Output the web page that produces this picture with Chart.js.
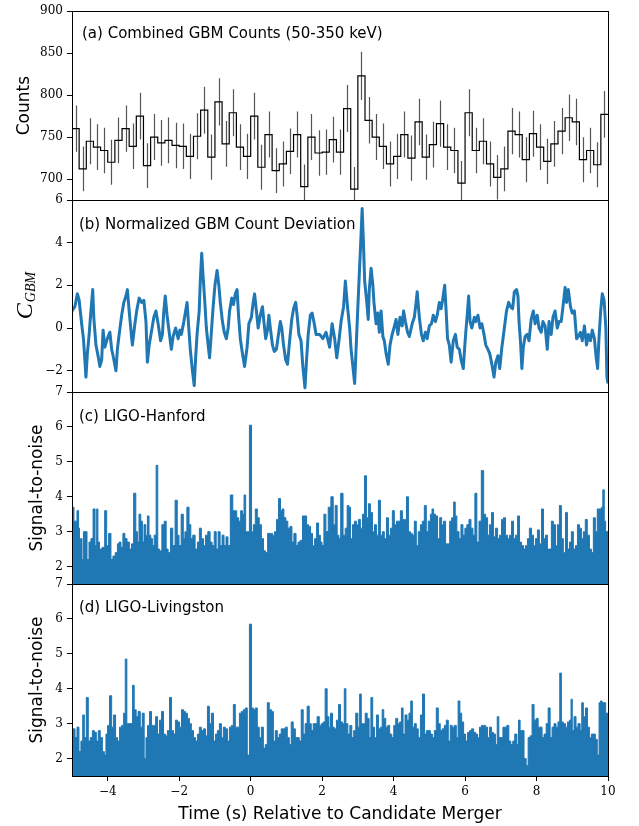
<!DOCTYPE html>
<html><head><meta charset="utf-8">
<script src="https://cdn.jsdelivr.net/npm/chart.js@4.4.0/dist/chart.umd.min.js"></script>
<style>
html,body{margin:0;padding:0;background:#fff;}
#wrap{position:relative;width:639px;height:826px;overflow:hidden;background:#fff;}
canvas{position:absolute;left:0;top:0;}
</style></head><body>
<div id="wrap">
<canvas id="pa" width="639" height="826"></canvas>
<canvas id="pb" width="639" height="826"></canvas>
<canvas id="pc" width="639" height="826"></canvas>
<canvas id="pd" width="639" height="826"></canvas>
</div>
<script>
// ---------------- DATA ----------------
const timeMin = -5, timeMax = 10;
const xTickValues = [-4, -2, 0, 2, 4, 6, 8, 10];

// (a) Combined GBM counts, 0.2 s bins starting at -5 s
const gbmBinStart = -5;
const gbmBinWidth = 0.2;
const gbmCounts = [
  760,712,745,738,734,720,746,760,739,775,
  716,750,743,746,740,739,727,751,782,726,
  792,742,779,738,727,775,714,753,710,718,
  733,753,691,750,731,732,747,732,784,688,
  823,770,750,739,718,727,753,725,768,726,
  741,766,738,734,695,779,734,745,718,702,
  712,757,753,723,754,738,721,742,757,773,
  768,723,734,717,777
];
const gbmTickValues = [700, 750, 800, 850, 900];

// (b) Normalized GBM count deviation
const cgbmTime = [
  -5.00,-4.92,-4.85,-4.80,-4.73,-4.68,-4.64,-4.61,-4.57,-4.52,
  -4.48,-4.42,-4.39,-4.33,-4.26,-4.22,-4.17,-4.13,-4.08,-4.01,
  -3.94,-3.89,-3.85,-3.77,-3.73,-3.68,-3.61,-3.55,-3.49,-3.45,
  -3.40,-3.34,-3.31,-3.24,-3.18,-3.12,-3.05,-2.99,-2.93,-2.89,
  -2.84,-2.78,-2.71,-2.65,-2.59,-2.52,-2.47,-2.43,-2.39,-2.34,
  -2.28,-2.22,-2.17,-2.10,-2.03,-1.98,-1.94,-1.87,-1.82,-1.78,
  -1.74,-1.69,-1.63,-1.58,-1.54,-1.50,-1.44,-1.41,-1.37,-1.33,
  -1.29,-1.24,-1.19,-1.15,-1.10,-1.05,-1.00,-0.94,-0.89,-0.85,
  -0.79,-0.74,-0.68,-0.63,-0.59,-0.53,-0.48,-0.43,-0.38,-0.34,
  -0.29,-0.23,-0.17,-0.10,-0.05,0.02,0.07,0.11,0.16,0.21,
  0.27,0.33,0.37,0.42,0.47,0.51,0.55,0.61,0.66,0.72,
  0.77,0.83,0.87,0.92,0.98,1.03,1.09,1.15,1.20,1.26,
  1.30,1.35,1.41,1.46,1.52,1.56,1.61,1.67,1.72,1.78,
  1.83,1.93,2.02,2.11,2.21,2.28,2.35,2.41,2.47,2.53,
  2.60,2.65,2.71,2.77,2.81,2.86,2.91,2.95,3.00,3.04,
  3.08,3.12,3.16,3.19,3.25,3.29,3.32,3.37,3.42,3.45,
  3.51,3.56,3.60,3.65,3.70,3.74,3.79,3.85,3.90,3.96,
  4.01,4.07,4.12,4.18,4.24,4.28,4.33,4.39,4.44,4.52,
  4.58,4.63,4.66,4.72,4.78,4.83,4.89,4.94,5.00,5.06,
  5.11,5.17,5.22,5.28,5.33,5.37,5.43,5.47,5.51,5.56,
  5.61,5.67,5.73,5.78,5.84,5.89,5.95,5.99,6.02,6.07,
  6.10,6.14,6.19,6.26,6.30,6.36,6.42,6.47,6.53,6.58,
  6.64,6.69,6.75,6.81,6.86,6.92,6.97,7.03,7.10,7.16,
  7.22,7.27,7.33,7.38,7.44,7.48,7.51,7.55,7.59,7.63,
  7.68,7.74,7.79,7.85,7.91,7.96,8.02,8.07,8.13,8.18,
  8.24,8.30,8.35,8.41,8.46,8.52,8.58,8.63,8.69,8.74,
  8.80,8.84,8.89,8.95,9.00,9.06,9.12,9.17,9.23,9.28,
  9.34,9.40,9.45,9.51,9.56,9.62,9.67,9.71,9.75,9.80,
  9.84,9.89,9.94,9.97,10.00
];
const cgbmValue = [
  0.8,1.0,1.6,1.3,0.2,-0.5,-1.5,-2.3,-1.2,-0.3,
  0.6,1.8,0.5,-0.8,-1.4,-1.8,-1.5,-0.1,-0.9,-0.5,
  -0.2,-1.0,-1.3,-2.0,-1.0,-0.3,0.6,1.2,1.5,1.8,
  0.8,-0.3,-0.8,0.2,0.9,1.4,1.2,1.3,0.3,-1.6,
  -0.8,-0.2,0.5,0.8,0.2,-0.6,-0.3,0.8,1.5,0.6,
  -0.2,-1.0,-0.4,0.0,-0.5,-0.1,-0.3,0.3,0.8,1.2,
  0.2,-1.0,-2.0,-2.7,-1.4,-0.3,0.8,2.2,3.5,2.4,
  1.4,0.0,-0.8,-1.4,-0.2,1.0,2.0,2.7,2.0,1.2,
  0.3,-0.2,-0.5,0.0,0.8,1.4,1.1,1.6,1.8,0.6,
  -0.5,-1.2,-1.8,-0.9,0.2,0.5,1.2,1.6,0.8,0.0,
  0.6,1.0,0.3,-0.5,-0.1,0.6,0.0,-0.8,-1.1,-1.0,
  -0.4,0.3,0.0,-0.8,-1.5,-1.7,-0.6,0.4,0.9,1.2,
  0.6,-0.3,-0.6,-1.8,-2.8,-1.6,-0.3,0.6,0.7,0.2,
  -0.3,-0.3,-0.5,-0.2,-0.9,0.2,-0.5,-1.4,-0.6,0.3,
  1.0,2.2,1.0,0.0,-1.0,-1.8,-2.6,-1.0,1.0,2.5,
  4.0,5.6,3.8,2.2,1.2,0.4,1.8,2.8,2.0,1.2,
  0.2,0.7,-0.2,0.8,-0.4,-0.6,-1.2,-1.7,-0.8,-0.3,
  0.0,0.4,-0.3,0.5,0.1,0.8,0.3,-0.2,-0.4,0.2,
  0.5,1.2,1.7,0.5,-0.3,-0.6,-0.2,-0.5,0.1,0.2,
  0.6,0.3,0.6,1.2,0.9,1.3,2.0,0.8,-0.5,-0.8,
  -1.6,-0.6,-0.3,-0.9,-1.0,-1.5,-1.9,-0.9,-0.2,0.8,
  1.5,0.3,0.0,0.5,0.3,0.6,0.0,0.2,-0.3,-0.8,
  -1.0,-1.2,-1.7,-2.3,-1.6,-1.3,-1.9,-0.9,0.0,0.8,
  1.2,1.0,0.9,1.7,1.8,1.5,0.3,-0.6,-1.9,-0.9,
  -0.4,-0.3,-0.6,0.4,0.8,0.2,0.6,0.0,-0.2,0.3,
  0.1,-1.0,0.3,-0.3,0.5,0.8,0.0,0.3,0.3,1.0,
  1.9,1.2,1.8,1.0,0.7,0.8,-0.5,-0.4,-0.2,-0.6,
  0.1,-0.8,-0.3,-0.6,-0.1,-0.5,-1.4,-1.9,-0.4,0.9,
  1.6,1.3,0.0,-2.3,-2.6
];
const cgbmTickValues = [-2, 0, 2, 4, 6];

// (c) LIGO-Hanford signal-to-noise
const hanfordTime = [
  -5.00,-4.89,-4.83,-4.80,-4.78,-4.74,-4.70,-4.66,-4.61,-4.55,
  -4.50,-4.44,-4.38,-4.33,-4.29,-4.26,-4.20,-4.12,-4.05,-4.01,
  -3.94,-3.88,-3.83,-3.75,-3.71,-3.66,-3.60,-3.55,-3.49,-3.43,
  -3.36,-3.31,-3.24,-3.19,-3.15,-3.10,-3.05,-3.01,-2.96,-2.91,
  -2.87,-2.82,-2.77,-2.73,-2.67,-2.62,-2.58,-2.52,-2.45,-2.39,
  -2.34,-2.28,-2.21,-2.15,-2.08,-2.03,-1.98,-1.91,-1.86,-1.82,
  -1.75,-1.70,-1.65,-1.59,-1.52,-1.46,-1.41,-1.35,-1.29,-1.24,
  -1.16,-1.11,-1.05,-0.99,-0.94,-0.88,-0.83,-0.77,-0.72,-0.66,
  -0.61,-0.53,-0.47,-0.42,-0.36,-0.31,-0.25,-0.21,-0.16,-0.12,
  -0.07,0.00,0.05,0.10,0.16,0.21,0.27,0.33,0.39,0.44,
  0.51,0.58,0.64,0.70,0.75,0.81,0.86,0.90,0.96,1.01,
  1.07,1.13,1.18,1.24,1.30,1.35,1.42,1.48,1.54,1.59,
  1.65,1.70,1.76,1.82,1.87,1.93,1.97,2.02,2.08,2.13,
  2.21,2.28,2.34,2.39,2.45,2.49,2.55,2.62,2.67,2.73,
  2.77,2.82,2.88,2.93,2.99,3.04,3.10,3.16,3.21,3.27,
  3.32,3.38,3.44,3.49,3.55,3.60,3.66,3.71,3.77,3.83,
  3.88,3.94,3.99,4.05,4.11,4.16,4.22,4.27,4.33,4.39,
  4.44,4.50,4.55,4.61,4.66,4.72,4.78,4.83,4.89,4.94,
  5.00,5.06,5.09,5.15,5.20,5.26,5.32,5.37,5.43,5.48,
  5.54,5.60,5.65,5.71,5.74,5.80,5.86,5.91,5.97,6.02,
  6.08,6.14,6.19,6.25,6.30,6.36,6.42,6.49,6.55,6.60,
  6.66,6.71,6.77,6.82,6.88,6.94,6.99,7.05,7.10,7.16,
  7.22,7.27,7.33,7.38,7.44,7.50,7.55,7.61,7.66,7.72,
  7.77,7.83,7.89,7.94,8.00,8.05,8.11,8.17,8.22,8.28,
  8.33,8.39,8.44,8.50,8.56,8.61,8.67,8.72,8.78,8.84,
  8.89,8.95,9.00,9.06,9.12,9.17,9.23,9.28,9.34,9.39,
  9.45,9.51,9.56,9.62,9.67,9.73,9.79,9.84,9.87,9.92,
  9.95,10.00
];
const hanfordSNR = [
  3.7,3.3,3.6,3.1,2.5,2.8,2.2,3.0,3.0,2.2,
  2.7,2.8,3.65,2.6,3.65,2.7,2.5,2.55,3.6,2.6,
  2.95,2.2,2.3,2.4,2.65,2.7,2.55,2.95,2.8,2.7,
  2.5,2.65,4.1,3.0,2.7,3.5,3.3,2.7,3.2,2.9,
  3.45,2.9,2.8,2.6,2.9,4.9,2.5,2.45,3.2,3.3,
  2.5,2.4,3.1,2.6,3.9,2.9,2.6,3.5,2.8,3.0,
  3.7,3.2,2.8,2.9,2.5,2.7,3.1,2.8,2.6,2.9,
  3.0,2.7,2.6,3.0,2.5,3.0,2.6,2.9,2.6,2.85,
  2.6,4.05,3.6,3.6,3.4,3.3,3.6,3.5,4.05,3.0,
  3.0,6.05,3.0,3.2,3.65,3.4,3.2,2.8,2.45,2.4,
  2.95,2.95,2.9,3.0,3.35,3.95,3.6,3.65,3.4,3.3,
  3.1,3.15,2.7,2.95,2.6,2.7,2.75,3.45,3.45,3.2,
  3.15,2.95,2.6,2.8,3.25,2.9,2.7,2.6,3.5,3.0,
  3.7,4.0,3.2,3.75,2.9,2.8,4.1,2.9,3.1,3.75,
  3.7,2.8,3.2,3.3,3.2,3.35,3.1,3.5,4.6,3.4,
  3.8,3.55,3.0,3.2,2.9,3.9,2.9,3.0,2.8,3.4,
  2.9,3.1,3.6,3.2,3.3,3.3,3.6,3.35,3.35,4.0,
  3.0,2.95,2.9,3.3,2.6,3.0,3.2,3.3,3.75,3.0,
  3.3,3.5,3.65,3.5,3.45,2.8,3.4,3.2,3.3,2.65,
  2.65,3.3,3.4,3.85,3.45,3.0,2.8,3.2,2.9,3.1,
  3.2,3.35,3.1,2.9,4.1,2.7,3.3,4.75,3.5,3.4,
  2.9,3.2,3.55,2.85,3.1,2.8,2.9,3.35,3.4,2.9,
  2.8,2.9,3.3,2.8,2.9,3.45,2.7,2.6,2.5,2.6,
  2.8,3.1,2.9,2.6,2.8,3.05,2.65,3.65,2.8,2.9,
  2.5,2.5,3.3,3.2,2.6,3.2,3.75,2.8,2.4,3.55,
  2.5,2.7,3.0,2.5,2.6,3.2,3.1,2.8,3.0,3.35,
  2.9,2.5,2.4,3.4,3.0,3.65,3.65,3.7,4.2,3.3,
  3.0,3.0
];

// (d) LIGO-Livingston signal-to-noise
const livingstonTime = [
  -5.00,-4.94,-4.89,-4.83,-4.78,-4.72,-4.68,-4.63,-4.57,-4.52,
  -4.46,-4.40,-4.35,-4.29,-4.24,-4.18,-4.12,-4.07,-4.03,-3.98,
  -3.92,-3.86,-3.81,-3.75,-3.70,-3.64,-3.58,-3.53,-3.49,-3.44,
  -3.38,-3.32,-3.29,-3.23,-3.18,-3.12,-3.06,-3.01,-2.95,-2.91,
  -2.86,-2.80,-2.75,-2.69,-2.63,-2.58,-2.52,-2.47,-2.41,-2.36,
  -2.30,-2.24,-2.19,-2.13,-2.08,-2.02,-1.96,-1.91,-1.85,-1.80,
  -1.74,-1.69,-1.63,-1.57,-1.52,-1.46,-1.41,-1.35,-1.29,-1.24,
  -1.18,-1.13,-1.07,-1.01,-0.96,-0.90,-0.85,-0.79,-0.74,-0.68,
  -0.62,-0.57,-0.51,-0.46,-0.40,-0.34,-0.29,-0.23,-0.18,-0.12,
  -0.07,0.00,0.05,0.10,0.16,0.21,0.27,0.33,0.38,0.44,
  0.49,0.55,0.61,0.66,0.72,0.77,0.83,0.88,0.94,1.00,
  1.05,1.11,1.16,1.22,1.28,1.33,1.39,1.44,1.50,1.55,
  1.61,1.67,1.72,1.78,1.83,1.89,1.95,2.00,2.06,2.11,
  2.17,2.21,2.26,2.32,2.37,2.43,2.49,2.54,2.60,2.64,
  2.69,2.75,2.80,2.86,2.91,2.97,3.03,3.07,3.12,3.18,
  3.23,3.29,3.34,3.39,3.44,3.49,3.55,3.60,3.66,3.70,
  3.75,3.81,3.86,3.92,3.98,4.03,4.09,4.14,4.20,4.24,
  4.29,4.35,4.40,4.46,4.50,4.55,4.61,4.66,4.72,4.78,
  4.84,4.89,4.94,5.00,5.06,5.11,5.17,5.22,5.28,5.33,
  5.39,5.45,5.50,5.56,5.61,5.67,5.73,5.78,5.83,5.88,
  5.93,5.99,6.04,6.10,6.15,6.21,6.27,6.32,6.38,6.43,
  6.49,6.55,6.60,6.66,6.71,6.77,6.82,6.88,6.92,6.97,
  7.03,7.09,7.14,7.20,7.25,7.31,7.36,7.42,7.48,7.51,
  7.57,7.62,7.68,7.74,7.79,7.85,7.90,7.96,8.02,8.07,
  8.13,8.18,8.24,8.30,8.35,8.41,8.46,8.52,8.57,8.63,
  8.67,8.72,8.78,8.84,8.89,8.95,8.98,9.02,9.08,9.13,
  9.19,9.25,9.28,9.34,9.40,9.45,9.51,9.56,9.62,9.67,
  9.73,9.77,9.81,9.86,9.92,9.95,10.00
];
const livingstonSNR = [
  2.55,2.85,2.6,2.9,2.2,2.5,3.25,2.6,3.75,2.5,
  2.6,2.8,2.75,2.5,2.8,2.6,2.2,2.1,2.7,2.95,
  3.8,2.9,3.25,2.6,2.5,2.9,2.95,3.3,4.85,3.0,
  3.0,3.0,4.1,3.4,3.2,3.35,2.9,3.3,2.0,2.6,
  2.95,3.35,2.95,2.95,3.2,2.7,3.1,3.35,2.7,2.65,
  2.8,3.75,2.8,2.7,3.1,3.05,2.9,3.4,3.35,3.3,
  3.15,3.0,2.8,2.6,2.5,2.7,2.9,2.8,2.85,2.65,
  3.5,3.0,3.3,2.5,2.7,2.8,3.0,2.6,2.9,2.85,
  2.5,2.9,2.95,3.55,2.9,2.9,3.3,3.35,3.4,3.45,
  2.1,5.85,3.45,3.4,3.45,2.9,2.6,2.9,2.3,2.4,
  3.6,3.4,3.35,2.5,2.8,2.6,2.7,2.85,2.85,2.9,
  2.6,2.4,3.05,2.85,2.6,2.6,2.5,3.4,2.7,3.0,
  3.5,3.0,2.8,3.0,3.0,3.2,2.95,3.0,3.05,4.0,
  3.2,2.9,3.3,2.9,2.85,3.1,3.55,3.05,3.0,4.0,
  3.0,2.7,2.95,2.6,2.8,3.3,2.9,3.85,3.0,3.0,
  3.3,3.15,2.6,3.75,2.9,2.6,3.25,2.85,2.9,3.4,
  3.15,2.9,2.95,2.7,2.6,2.95,3.15,3.0,3.05,3.45,
  2.7,3.25,3.1,3.3,3.65,2.9,3.0,2.85,2.6,3.25,
  3.85,2.7,2.8,2.8,2.7,2.6,2.8,3.45,3.0,2.8,
  2.85,2.95,3.1,2.5,2.95,2.9,2.95,2.6,3.65,3.3,
  3.05,2.7,2.5,2.75,2.8,2.85,2.75,2.7,2.6,2.9,
  2.95,2.95,2.9,2.6,2.9,2.75,2.7,2.4,3.2,2.6,
  2.6,2.9,2.9,2.95,2.5,2.4,2.5,2.7,2.4,3.1,
  2.8,2.8,2.0,1.8,2.6,2.65,3.55,3.1,3.15,2.9,
  2.9,2.6,2.7,3.0,3.45,2.6,2.9,3.0,2.9,3.05,
  4.45,3.05,3.0,2.9,3.05,3.1,3.7,2.8,3.2,2.9,
  3.0,2.8,3.6,3.2,3.45,2.9,2.6,2.7,2.7,2.55,
  2.1,3.6,3.65,3.6,3.6,3.3,3.3
];
const snrTickValues = [2, 3, 4, 5, 6, 7];

// ---------------- STYLE / LAYOUT ----------------
const BLUE = '#1f77b4';
const SERIF = '"DejaVu Serif", serif';
const SANS = '"DejaVu Sans", sans-serif';
const W = 639, H = 826;
const AXIS_LEFT = 72, AXIS_RIGHT = 608;

function fmt(v) { return v < 0 ? '\u2212' + Math.abs(v) : String(v); }

const decorPlugin = {
  id: 'panelDecor',
  beforeDatasetsDraw(chart, args, opts) {
    if (!opts.errors) return;
    const {ctx, chartArea: a, scales: {x, y}} = chart;
    ctx.save();
    ctx.beginPath(); ctx.rect(a.left, a.top, a.right - a.left, a.bottom - a.top); ctx.clip();
    ctx.strokeStyle = '#555'; ctx.lineWidth = 1.2;
    opts.errors.centers.forEach((c, i) => {
      const v = opts.errors.values[i], e = opts.errors.err[i];
      const px = Math.round(x.getPixelForValue(c)) + 0.5;
      ctx.beginPath();
      ctx.moveTo(px, y.getPixelForValue(v - e));
      ctx.lineTo(px, y.getPixelForValue(v + e));
      ctx.stroke();
    });
    ctx.restore();
  },
  afterDraw(chart, args, opts) {
    const {ctx, chartArea: a} = chart;
    ctx.save();
    ctx.strokeStyle = '#000'; ctx.lineWidth = 1;
    ctx.strokeRect(Math.round(a.left) + 0.5, Math.round(a.top) + 0.5,
                   Math.round(a.right - a.left), Math.round(a.bottom - a.top));
    ctx.fillStyle = '#000';
    ctx.font = '15px ' + SANS;
    ctx.textBaseline = 'middle'; ctx.textAlign = 'left';
    ctx.fillText(opts.label, a.left + opts.dx, a.top + opts.dy);
    if (opts.mathLabel) {
      const cy = (a.top + a.bottom) / 2;
      ctx.translate(opts.mathX, cy);
      ctx.rotate(-Math.PI / 2);
      const f1 = 'italic 24px "Liberation Serif", serif';
      const f2 = 'italic 14px "Liberation Serif", serif';
      ctx.font = f1; const w1 = ctx.measureText('C').width;
      ctx.font = f2; const w2 = ctx.measureText('GBM').width;
      const x0 = -(w1 + w2) / 2;
      ctx.textBaseline = 'alphabetic';
      ctx.font = f1; ctx.fillText('C', x0, 8);
      ctx.font = f2; ctx.fillText('GBM', x0 + w1 + 1, 11);
    }
    ctx.restore();
  }
};

function yAxis(min, max, ticks, title, titlePad) {
  return {
    type: 'linear', min, max,
    afterFit(s) { s.width = AXIS_LEFT; },
    afterBuildTicks(s) { s.ticks = ticks.map(v => ({value: v})); },
    ticks: {font: {family: SERIF, size: 12}, color: '#000', padding: 4, autoSkip: false,
            callback: v => fmt(v)},
    grid: {drawOnChartArea: false, drawTicks: true, tickLength: 5, color: '#000', lineWidth: 1},
    border: {display: false},
    title: title ? {display: true, text: title, color: '#000',
                    font: {family: SANS, size: 17}, padding: {top: titlePad, bottom: 0}}
                 : {display: false}
  };
}

function xAxis(show) {
  return {
    type: 'linear', min: timeMin, max: timeMax, display: show,
    afterBuildTicks(s) { s.ticks = xTickValues.map(v => ({value: v})); },
    afterFit(s) { if (show) s.height = 50; },
    ticks: {font: {family: SERIF, size: 12}, color: '#000', padding: 4, maxRotation: 0,
            autoSkip: false, callback: v => fmt(v)},
    grid: {drawOnChartArea: false, drawTicks: true, tickLength: 5, color: '#000', lineWidth: 1},
    border: {display: false},
    title: {display: show, text: 'Time (s) Relative to Candidate Merger', color: '#000',
            font: {family: SANS, size: 17}, padding: {top: 0, bottom: 1}}
  };
}

function baseOptions(top, bottom, yCfg, showX, decor) {
  return {
    responsive: false, animation: false, devicePixelRatio: 1,
    layout: {padding: {left: 0, right: W - AXIS_RIGHT, top: top, bottom: showX ? 0 : H - bottom}},
    scales: {x: xAxis(showX), y: yCfg},
    plugins: {legend: {display: false}, tooltip: {enabled: false}, panelDecor: decor},
    elements: {point: {radius: 0}}
  };
}

// (a) step histogram + Poisson error bars
const gbmEdges = gbmCounts.map((_, i) => gbmBinStart + i * gbmBinWidth);
const gbmCenters = gbmEdges.map(e => e + gbmBinWidth / 2);
const gbmErr = gbmCounts.map(c => Math.sqrt(c)); // Poisson uncertainty
const gbmStep = gbmCounts.map((c, i) => ({x: gbmEdges[i], y: c}));
gbmStep.push({x: gbmBinStart + gbmCounts.length * gbmBinWidth, y: gbmCounts[gbmCounts.length - 1]});

new Chart(document.getElementById('pa'), {
  type: 'line',
  data: {datasets: [{data: gbmStep, stepped: 'before', borderColor: '#000', borderWidth: 1.2,
                     fill: false, pointRadius: 0}]},
  options: baseOptions(9, 200, yAxis(675, 900, gbmTickValues, 'Counts', 14), false,
    {label: '(a) Combined GBM Counts (50-350 keV)', dx: 10, dy: 23,
     errors: {centers: gbmCenters, values: gbmCounts, err: gbmErr}}),
  plugins: [decorPlugin]
});

new Chart(document.getElementById('pb'), {
  type: 'line',
  data: {datasets: [{data: cgbmTime.map((t, i) => ({x: t, y: cgbmValue[i]})),
                     borderColor: BLUE, borderWidth: 3, fill: false, pointRadius: 0,
                     borderJoinStyle: 'round'}]},
  options: baseOptions(200, 392, yAxis(-3, 6, cgbmTickValues, null, 0), false,
    {label: '(b) Normalized GBM Count Deviation', dx: 7, dy: 25, mathLabel: true, mathX: 24}),
  plugins: [decorPlugin]
});

new Chart(document.getElementById('pc'), {
  type: 'line',
  data: {datasets: [{data: hanfordTime.map((t, i) => ({x: t, y: hanfordSNR[i]})),
                     stepped: 'middle', borderColor: BLUE, backgroundColor: BLUE,
                     borderWidth: 1, fill: 'start', pointRadius: 0}]},
  options: baseOptions(392, 584, yAxis(1.5, 7, snrTickValues, 'Signal-to-noise', 27), false,
    {label: '(c) LIGO-Hanford', dx: 7, dy: 25}),
  plugins: [decorPlugin]
});

new Chart(document.getElementById('pd'), {
  type: 'line',
  data: {datasets: [{data: livingstonTime.map((t, i) => ({x: t, y: livingstonSNR[i]})),
                     stepped: 'middle', borderColor: BLUE, backgroundColor: BLUE,
                     borderWidth: 1, fill: 'start', pointRadius: 0}]},
  options: baseOptions(584, 776, yAxis(1.5, 7, snrTickValues, 'Signal-to-noise', 27), true,
    {label: '(d) LIGO-Livingston', dx: 7, dy: 24}),
  plugins: [decorPlugin]
});
</script>
</body></html>
